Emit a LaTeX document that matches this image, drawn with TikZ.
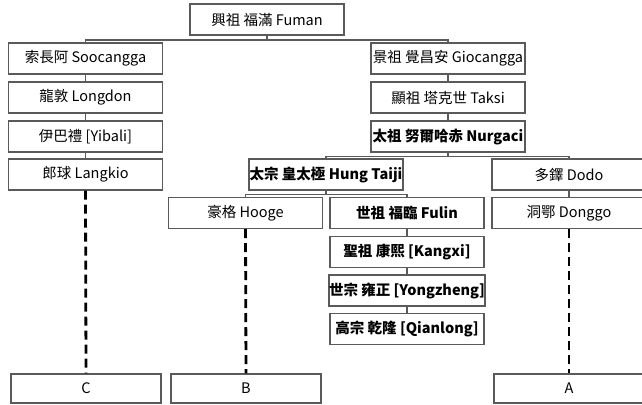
\documentclass[tikz,border=0pt]{standalone}
\usepackage{fontspec}
\setmainfont{Noto Sans CJK TC}
\begin{document}
\begin{tikzpicture}[x=1pt,y=-1pt,
  box/.style={draw=boxgray, line width=1.4pt, fill=white, minimum width=154pt, minimum height=31pt, inner sep=0pt, text=black, font=\fontsize{14.5}{16}\selectfont},
  endbox/.style={box, minimum width=150pt, minimum height=29pt},
  bbox/.style={box, font=\fontsize{14.5}{16}\selectfont\bfseries},
  link/.style={draw=linegray, line width=1.4pt},
  dashlink/.style={draw=black, line width=2.8pt, dash pattern=on 9pt off 5pt}]
\definecolor{boxgray}{HTML}{5A5A5A}
\definecolor{linegray}{HTML}{5A5A5A}
\useasboundingbox (0,0) rectangle (642,404);
\fill[white] (0,0) rectangle (642,404);
% nodes
\node[box] (fuman) at (267,19.5) {興祖 福滿 Fuman};
\node[box] (soo) at (85.5,58.5) {索長阿 Soocangga};
\node[box] (lon) at (85.5,97.5) {龍敦 Longdon};
\node[box] (yib) at (85.5,136.5) {伊巴禮 [Yibali]};
\node[box] (lan) at (85.5,174.5) {郎球 Langkio};
\node[box] (gio) at (448,58.5) {景祖 覺昌安 Giocangga};
\node[box] (tak) at (448,97.5) {顯祖 塔克世 Taksi};
\node[bbox] (nur) at (448,136.5) {太祖 努爾哈赤 Nurgaci};
\node[bbox] (hun) at (326,174.5) {太宗 皇太極 Hung Taiji};
\node[box] (dod) at (569,174.5) {多鐸 Dodo};
\node[box] (hoo) at (245.5,213) {豪格 Hooge};
\node[bbox] (ful) at (407,213) {世祖 福臨 Fulin};
\node[box] (don) at (569,213) {洞鄂 Donggo};
\node[bbox] (kan) at (407,252) {聖祖 康熙 [Kangxi]};
\node[bbox] (yon) at (407,290.5) {世宗 雍正 [Yongzheng]};
\node[bbox] (qia) at (407,329) {高宗 乾隆 [Qianlong]};
\node[endbox] (c) at (86,388.5) {C};
\node[endbox] (b) at (246,388.5) {B};
\node[endbox] (a) at (569,388.5) {A};
% tree connectors
\draw[link] (fuman.south) -- ++(0,4.5) -| (soo.north);
\draw[link] (fuman.south) -- ++(0,4.5) -| (gio.north);
\draw[link] (nur.south) -- ++(0,3.5) -| (hun.north);
\draw[link] (nur.south) -- ++(0,3.5) -| (dod.north);
\draw[link] (hun.south) -- ++(0,3.5) -| (hoo.north);
\draw[link] (hun.south) -- ++(0,3.5) -| (ful.north);
\draw[link] (soo) -- (lon);
\draw[link] (lon) -- (yib);
\draw[link] (yib) -- (lan);
\draw[link] (gio) -- (tak);
\draw[link] (tak) -- (nur);
\draw[link] (dod) -- (don);
\draw[link] (ful) -- (kan);
\draw[link] (kan) -- (yon);
\draw[link] (yon) -- (qia);
% dashed
\draw[dashlink] (lan.south) -- (c.north);
\draw[dashlink] (hoo.south) -- (b.north);
\draw[dashlink] (don.south) -- (a.north);
\end{tikzpicture}
\end{document}
